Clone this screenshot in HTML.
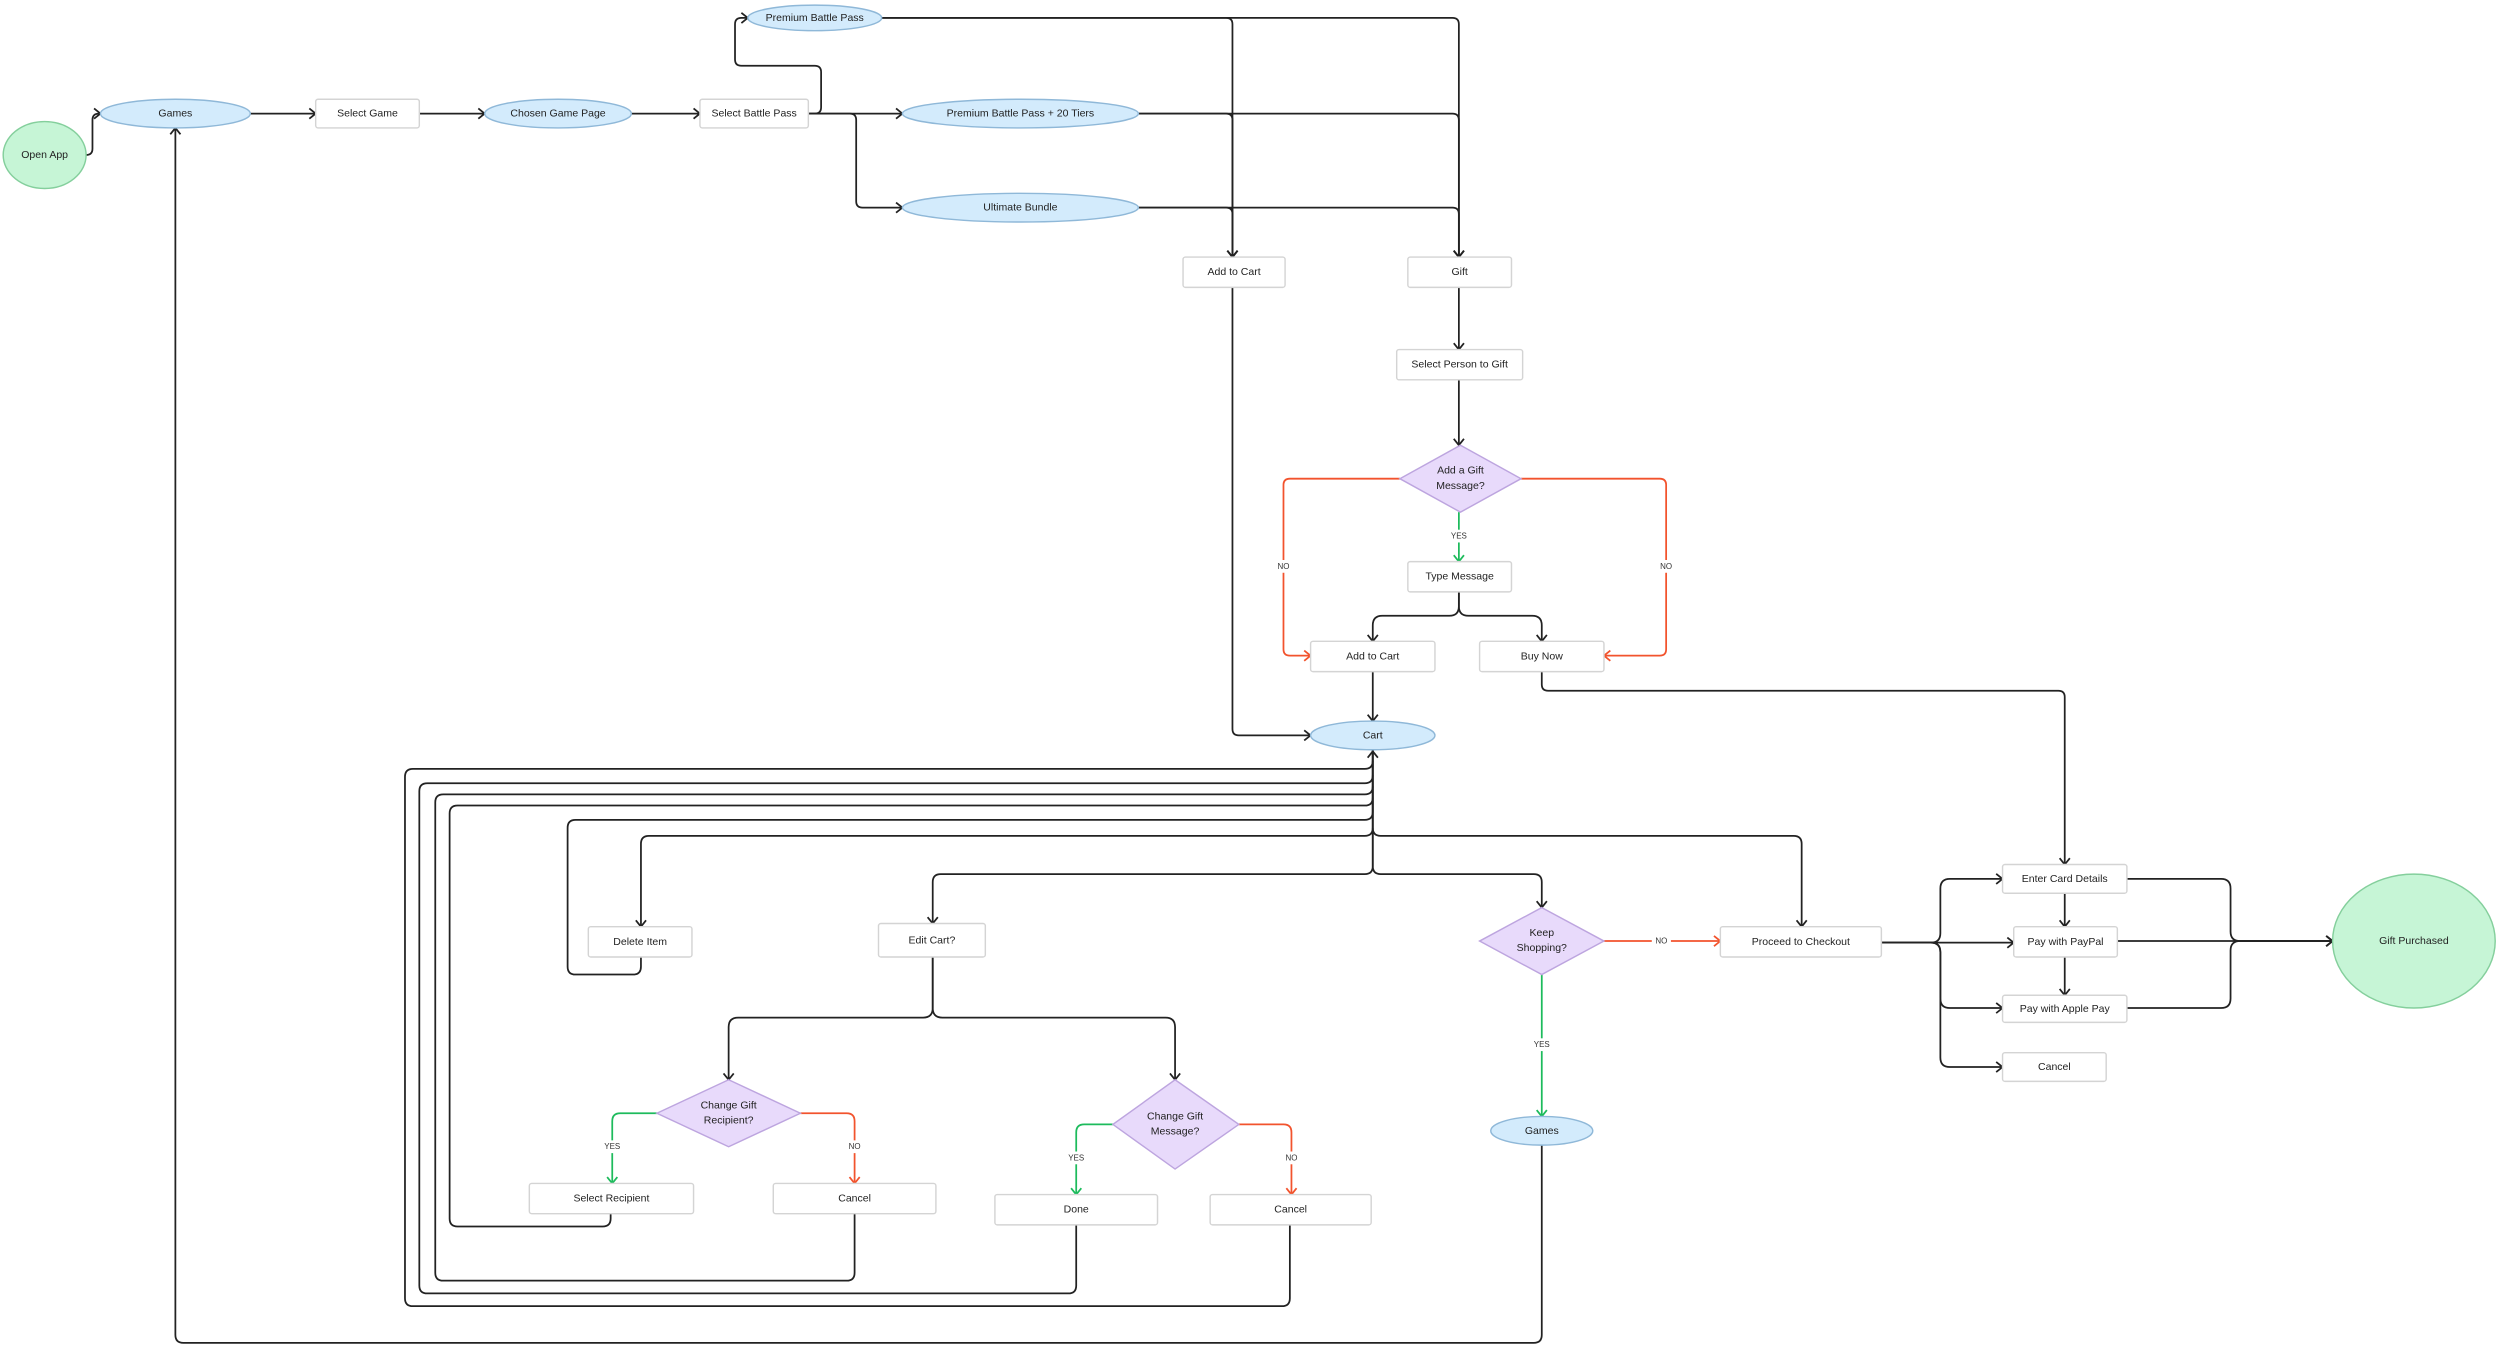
<!DOCTYPE html>
<html><head><meta charset="utf-8"><style>
html,body{margin:0;padding:0;background:#fff;}
svg{display:block;}
text{font-family:"Liberation Sans",sans-serif;font-size:6.6px;fill:#222;text-anchor:middle;dominant-baseline:central;}
.lbl{font-size:5px;fill:#333;}
.k{fill:none;stroke:#222;stroke-width:1.1;marker-end:url(#ak);}
.r{fill:none;stroke:#f2532d;stroke-width:1.1;marker-end:url(#ar);}
.g{fill:none;stroke:#1dbb5c;stroke-width:1.1;marker-end:url(#ag);}
.n{fill:none;stroke:#222;stroke-width:1.1;}
.box{fill:#fff;stroke:#d4d4d4;stroke-width:0.9;}
.ell{fill:#d3ebfc;stroke:#8fb8d8;stroke-width:0.9;}
.grn{fill:#c6f5d6;stroke:#84cf9c;stroke-width:0.9;}
.dia{fill:#e8dafb;stroke:#bda5df;stroke-width:0.9;}
.lb{fill:#fff;}
</style></head><body>
<svg width="2500" height="1348" viewBox="0 0 1568 845" xmlns="http://www.w3.org/2000/svg">
<defs>
<marker id="ak" markerUnits="userSpaceOnUse" markerWidth="8" markerHeight="8" refX="5.5" refY="4" orient="auto"><path d="M1.5,0.8 L5.5,4 L1.5,7.2" fill="none" stroke="#222" stroke-width="1.1"/></marker>
<marker id="ar" markerUnits="userSpaceOnUse" markerWidth="8" markerHeight="8" refX="5.5" refY="4" orient="auto"><path d="M1.5,0.8 L5.5,4 L1.5,7.2" fill="none" stroke="#f2532d" stroke-width="1.1"/></marker>
<marker id="ag" markerUnits="userSpaceOnUse" markerWidth="8" markerHeight="8" refX="5.5" refY="4" orient="auto"><path d="M1.5,0.8 L5.5,4 L1.5,7.2" fill="none" stroke="#1dbb5c" stroke-width="1.1"/></marker>
</defs>

<!-- edges -->
<path class="k" d="M54,97 H54 Q58,97 58,93 V75 Q58,71 62,71 H63"/>
<path class="k" d="M157,71 H198"/>
<path class="k" d="M263,71 H304"/>
<path class="k" d="M396,71 H439"/>
<path class="k" d="M507,71 H511 Q515,71 515,67 V45 Q515,41 511,41 H465 Q461,41 461,37 V15 Q461,11 465,11 H469"/>
<path class="k" d="M507,71 H566"/>
<path class="k" d="M507,71 H533 Q537,71 537,75 V126 Q537,130 541,130 H566"/>
<path class="k" d="M553,11 H769 Q773,11 773,15 V161"/>
<path class="k" d="M553,11 H911 Q915,11 915,15 V161"/>
<path class="k" d="M714,71 H769 Q773,71 773,75 V161"/>
<path class="k" d="M714,71 H911 Q915,71 915,75 V161"/>
<path class="k" d="M714,130 H769 Q773,130 773,134 V161"/>
<path class="k" d="M714,130 H911 Q915,130 915,134 V161"/>
<path class="k" d="M915,180 V219"/>
<path class="k" d="M915,238 V279"/>
<path class="r" d="M878,300 H809 Q805,300 805,304 V407 Q805,411 809,411 H822"/>
<path class="r" d="M954,300 H1041 Q1045,300 1045,304 V407 Q1045,411 1041,411 H1006"/>
<path class="g" d="M915,321 V352"/>
<path class="k" d="M915,371 V380 Q915,386 909,386 H867 Q861,386 861,392 V402"/>
<path class="k" d="M915,371 V380 Q915,386 921,386 H961 Q967,386 967,392 V402"/>
<path class="k" d="M773,180 V457 Q773,461 777,461 H822"/>
<path class="k" d="M861,421 V452"/>
<path class="k" d="M967,421 V429 Q967,433 971,433 H1291 Q1295,433 1295,437 V542"/>
<path class="k" d="M861,470 V519 Q861,524 856,524 H407 Q402,524 402,529 V581"/>
<path class="k" d="M861,470 V543 Q861,548 856,548 H590 Q585,548 585,553 V579"/>
<path class="k" d="M861,470 V543 Q861,548 866,548 H962 Q967,548 967,553 V569"/>
<path class="k" d="M861,519 Q861,524 866,524 H1125 Q1130,524 1130,529 V581"/>
<path class="k" d="M402,600 V606 Q402,611 397,611 H361 Q356,611 356,606 V519 Q356,514 361,514 H856 Q861,514 861,509 V471"/>
<path class="n" d="M383,761 V764 Q383,769 378,769 H287 Q282,769 282,764 V510 Q282,505 287,505 H856 Q861,505 861,500"/>
<path class="n" d="M536,761 V798 Q536,803 531,803 H278 Q273,803 273,798 V503 Q273,498 278,498 H856 Q861,498 861,493"/>
<path class="n" d="M675,768 V806 Q675,811 670,811 H268 Q263,811 263,806 V496 Q263,491 268,491 H856 Q861,491 861,486"/>
<path class="n" d="M809,768 V814 Q809,819 804,819 H259 Q254,819 254,814 V487 Q254,482 259,482 H856 Q861,482 861,477"/>
<path class="k" d="M967,718 V837 Q967,842 962,842 H115 Q110,842 110,837 V80"/>
<path class="k" d="M585,600 V632 Q585,638 579,638 H463 Q457,638 457,644 V677"/>
<path class="k" d="M585,600 V632 Q585,638 591,638 H731 Q737,638 737,644 V677"/>
<path class="g" d="M412,698 H389 Q384,698 384,703 V742"/>
<path class="r" d="M502,698 H531 Q536,698 536,703 V742"/>
<path class="g" d="M698,705 H680 Q675,705 675,710 V749"/>
<path class="r" d="M777,705 H805 Q810,705 810,710 V749"/>
<path class="r" d="M1006,590 H1079"/>
<path class="g" d="M967,611 V700"/>
<path class="k" d="M1180,591 H1211 Q1217,591 1217,585 V557 Q1217,551 1223,551 H1256"/>
<path class="k" d="M1180,591 H1263"/>
<path class="k" d="M1180,591 H1211 Q1217,591 1217,597 V626 Q1217,632 1223,632 H1256"/>
<path class="k" d="M1180,591 H1211 Q1217,591 1217,597 V663 Q1217,669 1223,669 H1256"/>
<path class="k" d="M1295,560 V581"/>
<path class="k" d="M1295,600 V624"/>
<path class="k" d="M1334,551 H1393 Q1399,551 1399,557 V584 Q1399,590 1405,590 H1463"/>
<path class="k" d="M1328,590 H1463"/>
<path class="k" d="M1334,632 H1393 Q1399,632 1399,626 V596 Q1399,590 1405,590 H1463"/>

<!-- edge labels -->
<rect class="lb" x="908" y="332" width="15" height="8"/><text class="lbl" x="915" y="336">YES</text>
<rect class="lb" x="799" y="351" width="12" height="8"/><text class="lbl" x="805" y="355">NO</text>
<rect class="lb" x="1039" y="351" width="12" height="8"/><text class="lbl" x="1045" y="355">NO</text>
<rect class="lb" x="1036" y="586" width="12" height="8"/><text class="lbl" x="1042" y="590">NO</text>
<rect class="lb" x="959" y="651" width="15" height="8"/><text class="lbl" x="967" y="655">YES</text>
<rect class="lb" x="376" y="715" width="15" height="8"/><text class="lbl" x="384" y="719">YES</text>
<rect class="lb" x="530" y="715" width="12" height="8"/><text class="lbl" x="536" y="719">NO</text>
<rect class="lb" x="667" y="722" width="15" height="8"/><text class="lbl" x="675" y="726">YES</text>
<rect class="lb" x="804" y="722" width="12" height="8"/><text class="lbl" x="810" y="726">NO</text>

<!-- nodes -->
<ellipse class="grn" cx="28" cy="97" rx="26" ry="21"/><text x="28" y="97">Open App</text>
<ellipse class="ell" cx="110" cy="71" rx="47" ry="9"/><text x="110" y="71">Games</text>
<rect class="box" x="198" y="62" width="65" height="18" rx="1.5"/><text x="230.5" y="71">Select Game</text>
<ellipse class="ell" cx="350" cy="71" rx="46" ry="9"/><text x="350" y="71">Chosen Game Page</text>
<rect class="box" x="439" y="62" width="68" height="18" rx="1.5"/><text x="473" y="71">Select Battle Pass</text>
<ellipse class="ell" cx="511" cy="11" rx="42" ry="8"/><text x="511" y="11">Premium Battle Pass</text>
<ellipse class="ell" cx="640" cy="71" rx="74" ry="9"/><text x="640" y="71">Premium Battle Pass + 20 Tiers</text>
<ellipse class="ell" cx="640" cy="130" rx="74" ry="9"/><text x="640" y="130">Ultimate Bundle</text>
<rect class="box" x="742" y="161" width="64" height="19" rx="1.5"/><text x="774" y="170.5">Add to Cart</text>
<rect class="box" x="883" y="161" width="65" height="19" rx="1.5"/><text x="915.5" y="170.5">Gift</text>
<rect class="box" x="876" y="219" width="79" height="19" rx="1.5"/><text x="915.5" y="228.5">Select Person to Gift</text>
<polygon class="dia" points="916,279 954,300 916,321 878,300"/><text x="916" y="295">Add a Gift</text><text x="916" y="304.5">Message?</text>
<rect class="box" x="883" y="352" width="65" height="19" rx="1.5"/><text x="915.5" y="361.5">Type Message</text>
<rect class="box" x="822" y="402" width="78" height="19" rx="1.5"/><text x="861" y="411.5">Add to Cart</text>
<rect class="box" x="928" y="402" width="78" height="19" rx="1.5"/><text x="967" y="411.5">Buy Now</text>
<ellipse class="ell" cx="861" cy="461" rx="39" ry="9"/><text x="861" y="461">Cart</text>
<rect class="box" x="369" y="581" width="65" height="19" rx="1.5"/><text x="401.5" y="590.5">Delete Item</text>
<rect class="box" x="551" y="579" width="67" height="21" rx="1.5"/><text x="584.5" y="589.5">Edit Cart?</text>
<polygon class="dia" points="967,569 1006,590 967,611 928,590"/><text x="967" y="585">Keep</text><text x="967" y="594.5">Shopping?</text>
<rect class="box" x="1079" y="581" width="101" height="19" rx="1.5"/><text x="1129.5" y="590.5">Proceed to Checkout</text>
<rect class="box" x="1256" y="542" width="78" height="18" rx="1.5"/><text x="1295" y="551">Enter Card Details</text>
<rect class="box" x="1263" y="581" width="65" height="19" rx="1.5"/><text x="1295.5" y="590.5">Pay with PayPal</text>
<rect class="box" x="1256" y="624" width="78" height="17" rx="1.5"/><text x="1295" y="632.5">Pay with Apple Pay</text>
<rect class="box" x="1256" y="660" width="65" height="18" rx="1.5"/><text x="1288.5" y="669">Cancel</text>
<ellipse class="grn" cx="1514" cy="590" rx="51" ry="42"/><text x="1514" y="590">Gift Purchased</text>
<polygon class="dia" points="457,677 502,698 457,719 412,698"/><text x="457" y="693">Change Gift</text><text x="457" y="702.5">Recipient?</text>
<polygon class="dia" points="737,677 777,705 737,733 698,705"/><text x="737" y="700">Change Gift</text><text x="737" y="709.5">Message?</text>
<rect class="box" x="332" y="742" width="103" height="19" rx="1.5"/><text x="383.5" y="751.5">Select Recipient</text>
<rect class="box" x="485" y="742" width="102" height="19" rx="1.5"/><text x="536" y="751.5">Cancel</text>
<rect class="box" x="624" y="749" width="102" height="19" rx="1.5"/><text x="675" y="758.5">Done</text>
<rect class="box" x="759" y="749" width="101" height="19" rx="1.5"/><text x="809.5" y="758.5">Cancel</text>
<ellipse class="ell" cx="967" cy="709" rx="32" ry="9"/><text x="967" y="709">Games</text>
</svg>
</body></html>
